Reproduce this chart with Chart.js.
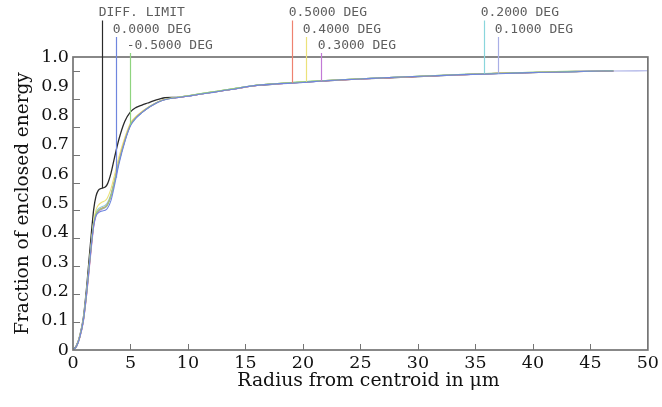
<!DOCTYPE html>
<html><head><meta charset="utf-8">
<script src="https://cdn.jsdelivr.net/npm/chart.js@4.4.0/dist/chart.umd.min.js"></script>
<style>html,body{margin:0;padding:0;background:#fff;}</style>
</head><body>
<canvas id="c" width="662" height="407"></canvas>
<script>
// Radius from centroid (µm)
const radius = [0,0.3,0.6,0.9, 1.2,1.4,1.6,1.8, 2.0,2.2,2.5,2.8, 3.0,3.3,3.6,4.0, 4.5,5.0,5.5,6.0, 6.5,7.0,7.5,8.0, 9,10,11,12, 13,14,15,16, 18,20,22,25, 28,31,34,37, 40,43,46,47];
const radiusExt = [...radius, 50];

const diffLimit = [0,0.015,0.05,0.11, 0.22,0.31,0.40,0.48, 0.525,0.545,0.552,0.556, 0.567,0.603,0.655,0.72, 0.78,0.813,0.828,0.836, 0.843,0.85,0.856,0.861, 0.862,0.867,0.873,0.879, 0.885,0.891,0.898,0.903, 0.909,0.914,0.919,0.925, 0.930,0.935,0.940,0.944, 0.947,0.950,0.952,0.952];
const field00 = [0,0.012,0.045,0.1, 0.2,0.28,0.36,0.425, 0.458,0.468,0.474,0.477, 0.484,0.51,0.56,0.635, 0.71,0.765,0.792,0.81, 0.825,0.837,0.847,0.854, 0.861,0.866,0.873,0.878, 0.885,0.890,0.898,0.903, 0.909,0.913,0.919,0.925, 0.931,0.935,0.940,0.943, 0.947,0.949,0.952,0.952];
const fieldM05 = [0,0.012,0.046,0.101, 0.2,0.282,0.362,0.43, 0.464,0.476,0.482,0.487, 0.495,0.526,0.572,0.642, 0.713,0.768,0.794,0.811, 0.826,0.838,0.848,0.855, 0.862,0.868,0.874,0.880, 0.886,0.892,0.898,0.904, 0.910,0.915,0.920,0.926, 0.931,0.936,0.941,0.944, 0.948,0.950,0.952,0.953];
const field05 = [0,0.011,0.044,0.098, 0.195,0.275,0.355,0.425, 0.462,0.476,0.484,0.489, 0.498,0.528,0.575,0.645, 0.715,0.77,0.795,0.812, 0.826,0.838,0.848,0.855, 0.861,0.867,0.873,0.879, 0.885,0.891,0.897,0.903, 0.909,0.914,0.919,0.925, 0.930,0.935,0.940,0.944, 0.947,0.950,0.951,0.952];
const field04 = [0,0.013,0.048,0.104, 0.205,0.288,0.37,0.44, 0.478,0.494,0.504,0.51, 0.52,0.55,0.595,0.66, 0.725,0.775,0.798,0.814, 0.828,0.839,0.849,0.856, 0.862,0.868,0.874,0.880, 0.886,0.892,0.898,0.904, 0.910,0.915,0.920,0.926, 0.931,0.936,0.940,0.945, 0.948,0.951,0.952,0.953];
const field03 = [0,0.011,0.043,0.096, 0.192,0.27,0.35,0.42, 0.458,0.472,0.48,0.486, 0.495,0.525,0.572,0.642, 0.713,0.768,0.794,0.811, 0.826,0.838,0.848,0.855, 0.861,0.867,0.873,0.879, 0.885,0.891,0.897,0.903, 0.909,0.914,0.919,0.925, 0.930,0.935,0.940,0.944, 0.947,0.950,0.952,0.952];
const field02 = [0,0.012,0.046,0.102, 0.202,0.284,0.364,0.434, 0.47,0.482,0.489,0.494, 0.503,0.533,0.58,0.65, 0.718,0.771,0.796,0.813, 0.827,0.839,0.849,0.856, 0.862,0.868,0.874,0.880, 0.886,0.892,0.898,0.904, 0.910,0.915,0.920,0.926, 0.931,0.936,0.941,0.945, 0.948,0.951,0.952,0.953];
const field01 = [0,0.012,0.045,0.1, 0.199,0.279,0.359,0.428, 0.463,0.475,0.482,0.487, 0.496,0.527,0.574,0.644, 0.714,0.769,0.794,0.811, 0.826,0.838,0.848,0.855, 0.861,0.867,0.873,0.879, 0.885,0.891,0.897,0.904, 0.909,0.914,0.919,0.926, 0.931,0.936,0.940,0.944, 0.947,0.950,0.952,0.952, 0.953];

const seriesNames = ['DIFF. LIMIT','0.0000 DEG','-0.5000 DEG','0.5000 DEG','0.4000 DEG','0.3000 DEG','0.2000 DEG','0.1000 DEG'];
const seriesValues = [diffLimit, field00, fieldM05, field05, field04, field03, field02, field01];
const seriesRadius = [radius, radius, radius, radius, radius, radius, radius, radiusExt];
const seriesColors = ['#2a2a2a','#6f86de','#8fd47f','#ee8270','#ece27a','#c27ad6','#8ad6dc','#a9afe6'];
// Radius where each label's leader line meets its curve, and label row
const labelRadius = [2.5, 3.75, 5.0, 19.06, 20.28, 21.58, 35.75, 36.93];
const labelRow = [0,1,2,0,1,2,0,1];

const xTicks = [0,5,10,15,20,25,30,35,40,45,50];
const yTickLabels = ['0','0.1','0.2','0.3','0.4','0.5','0.6','0.7','0.8','0.9','1.0'];
const innerTickValues = [0.1,0.2,0.3,0.4,0.5,0.6,0.7,0.8,0.9,1.0];
const xTitle = 'Radius from centroid in μm';
const yTitle = 'Fraction of enclosed energy';

function interp(xs, ys, x){
  for (let i=1;i<xs.length;i++){
    if (x<=xs[i]){const t=(x-xs[i-1])/(xs[i]-xs[i-1]);return ys[i-1]+t*(ys[i]-ys[i-1]);}
  }
  return ys[ys.length-1];
}

const serif = '"DejaVu Serif", serif';

const decor = {
  id:'decor',
  afterDatasetsDraw(chart){
    const {ctx, chartArea:a, scales} = chart;
    const xs = scales.x, ys = scales.y, yz = scales.yz;
    ctx.save();
    // inner tick marks
    ctx.strokeStyle = '#747474'; ctx.lineWidth = 1;
    ctx.beginPath();
    innerTickValues.forEach(v=>{const p=Math.round(yz.getPixelForValue(v))+0.5; ctx.moveTo(a.left,p); ctx.lineTo(a.left+7,p);});
    xTicks.slice(1,-1).forEach(v=>{const p=Math.round(xs.getPixelForValue(v))+0.5; ctx.moveTo(p,a.bottom); ctx.lineTo(p,a.bottom-6);});
    ctx.stroke();
    // frame
    ctx.strokeStyle = '#747474'; ctx.lineWidth = 1.7;
    ctx.strokeRect(a.left, a.top, a.right-a.left, a.bottom-a.top);
    // labels with leader lines
    const rowY = [13, 29.5, 45.5];
    ctx.font = '13px "DejaVu Sans Mono", monospace';
    ctx.textBaseline = 'middle'; ctx.textAlign = 'left';
    seriesNames.forEach((name,i)=>{
      const px = Math.round(xs.getPixelForValue(labelRadius[i]))+0.5;
      const v = interp(seriesRadius[i], seriesValues[i], labelRadius[i]);
      const py = ys.getPixelForValue(v);
      const y0 = rowY[labelRow[i]];
      ctx.fillStyle = '#5e5e5e';
      ctx.fillText(name, px-3.8, y0);
      ctx.strokeStyle = seriesColors[i]; ctx.lineWidth = 1.2;
      ctx.beginPath(); ctx.moveTo(px, y0+7.5); ctx.lineTo(px, py); ctx.stroke();
    });
    // x axis title
    ctx.fillStyle = '#111';
    ctx.font = '18.8px ' + serif;
    ctx.textAlign = 'center'; ctx.textBaseline = 'middle';
    ctx.fillText(xTitle, (a.left+a.right)/2 + 8, 381);
    ctx.restore();
  }
};

const datasets = seriesNames.map((n,i)=>({
  label: n,
  data: seriesRadius[i].map((r,j)=>({x:r, y:seriesValues[i][j]})),
  borderColor: seriesColors[i],
  borderWidth: i===0 ? 1.3 : 1.1,
  pointRadius: 0,
  cubicInterpolationMode: 'monotone',
  fill: false,
  order: i===0 ? 2 : 1
}));

new Chart(document.getElementById('c'), {
  type:'line',
  data:{datasets},
  options:{
    responsive:false, animation:false, devicePixelRatio:1,
    layout:{padding:{top:57,right:14,left:0,bottom:0}},
    plugins:{legend:{display:false}, tooltip:{enabled:false}},
    scales:{
      x:{type:'linear', min:0, max:50,
        afterBuildTicks: s => { s.ticks = xTicks.map(v=>({value:v})); },
        ticks:{font:{family:serif,size:17.5}, color:'#111', padding:3, maxRotation:0},
        grid:{display:false, drawTicks:false}, border:{display:false},
        afterFit: s => { s.height = 57; }
      },
      y:{type:'linear', min:0, max:1,
        afterBuildTicks: s => { s.ticks = yTickLabels.map(t=>({value:parseFloat(t)})); },
        ticks:{font:{family:serif,size:17.5}, color:'#111', padding:4, callback:(v,i)=>yTickLabels[i]},
        grid:{display:false, drawTicks:false}, border:{display:false},
        title:{display:true, text:yTitle, font:{family:serif,size:18.5}, color:'#111', padding:{top:12,bottom:0}},
        afterFit: s => { s.width = 73; }
      },
      yz:{type:'linear', min:0, max:1.05, display:false}
    }
  },
  plugins:[decor]
});
</script>
</body></html>
